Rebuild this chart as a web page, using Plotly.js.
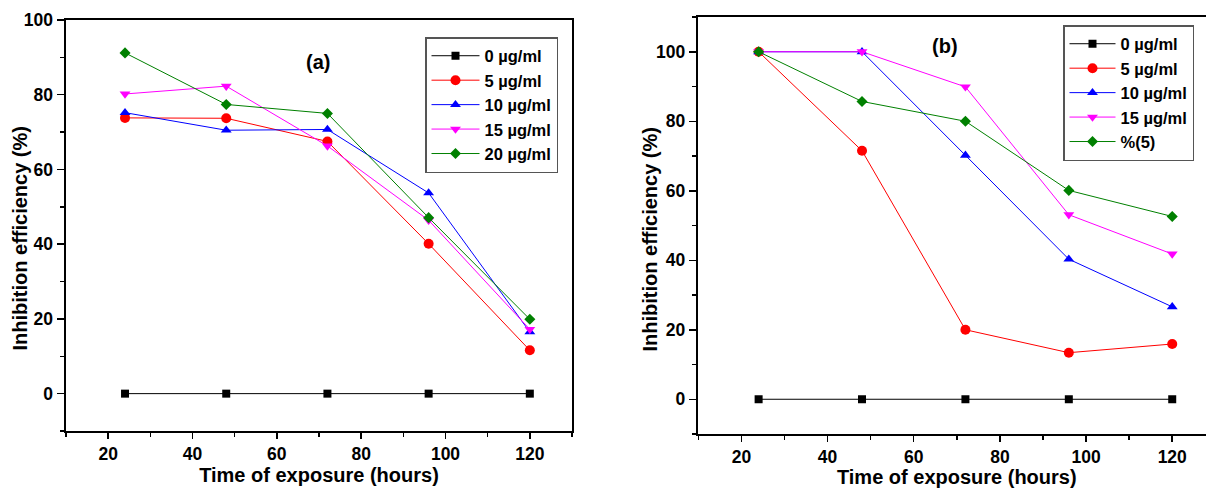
<!DOCTYPE html>
<html>
<head>
<meta charset="utf-8">
<script src="https://cdn.plot.ly/plotly-3.0.1.min.js"></script>
<style>html,body{margin:0;padding:0;background:#fff;overflow:hidden;width:1206px;height:488px;}#chart{width:1216px;height:488px;}</style>
</head>
<body>
<div id="chart"></div>
<script>
const hours = [24, 48, 72, 96, 120];

const namesA = ["0 µg/ml", "5 µg/ml", "10 µg/ml", "15 µg/ml", "20 µg/ml"];
const a0  = [0, 0, 0, 0, 0];
const a5  = [73.8, 73.7, 67.5, 40.1, 11.6];
const a10 = [75.2, 70.5, 70.7, 53.7, 16.5];
const a15 = [80.2, 82.3, 66.3, 46.4, 17.2];
const a20 = [91.2, 77.4, 75.0, 47.1, 19.9];

const namesB = ["0 µg/ml", "5 µg/ml", "10 µg/ml", "15 µg/ml", "%(5)"];
const b0  = [0, 0, 0, 0, 0];
const b5  = [100, 71.5, 20.0, 13.4, 15.9];
const b10 = [100, 100, 70.2, 40.3, 26.6];
const b15 = [100, 100, 89.9, 53.1, 41.8];
const b20 = [100, 85.7, 80.0, 60.1, 52.6];

const xTicks = [20, 40, 60, 80, 100, 120];
const yTicks = [0, 20, 40, 60, 80, 100];

const colors = ["#000000", "#ff0000", "#0000ff", "#ff00ff", "#008000"];
const symbols = ["square", "circle", "triangle-up", "triangle-down", "diamond"];
const sizes = [8, 10, 9.5, 9.5, 8.5];

const FONT = "Arial, 'Liberation Sans', sans-serif";

function mk(ys, i, name, xa, ya, leg) {
  return {
    x: hours, y: ys, name: name, type: "scatter", mode: "lines+markers",
    xaxis: xa, yaxis: ya, legend: leg,
    line: {color: colors[i], width: 1},
    marker: {color: colors[i], symbol: symbols[i], size: sizes[i]}
  };
}

const seriesA = [a0, a5, a10, a15, a20];
const seriesB = [b0, b5, b10, b15, b20];
const data = [];
seriesA.forEach((s, i) => data.push(mk(s, i, namesA[i], "x", "y", "legend")));
seriesB.forEach((s, i) => data.push(mk(s, i, namesB[i], "x2", "y2", "legend2")));

const W = 1216, H = 488;
function axisCommon(len) {
  return {
    showgrid: false, zeroline: false, showline: true, linecolor: "#000", linewidth: 2,
    mirror: true, ticks: "outside", ticklen: len, tickwidth: 1.5, tickcolor: "#000",
    tickfont: {family: FONT, size: 17.5, color: "#000", weight: 700},
    minor: {ticks: "outside", ticklen: 4, tickwidth: 1.5, tickcolor: "#000", dtick: 10},
    automargin: false
  };
}

const xTitle = {text: "<b>Time of exposure (hours)</b>", font: {family: FONT, size: 20, color: "#000"}, standoff: 2};
const yTitleFont = {family: FONT, size: 20, color: "#000"};
const legendFont = {family: FONT, size: 16.5, color: "#000", weight: 700};

const layout = {
  width: W, height: H,
  margin: {l: 0, r: 0, t: 0, b: 0},
  paper_bgcolor: "#fff", plot_bgcolor: "#fff",
  showlegend: true,
  xaxis: Object.assign(axisCommon(6), {
    domain: [66 / W, 572 / W], range: [10, 130], tickvals: xTicks,
    anchor: "y", title: xTitle
  }),
  yaxis: Object.assign(axisCommon(7.5), {
    domain: [1 - 431 / H, 1 - 20 / H], range: [-10, 100], tickvals: yTicks,
    anchor: "x"
  }),
  xaxis2: Object.assign(axisCommon(6), {
    domain: [698.3 / W, 1215.3 / W], range: [10, 130], tickvals: xTicks,
    anchor: "y2", title: xTitle
  }),
  yaxis2: Object.assign(axisCommon(7.5), {
    domain: [1 - 434 / H, 1 - 17 / H], range: [-10, 110], tickvals: yTicks,
    anchor: "x2"
  }),
  legend: {
    x: 425 / W, y: 1 - 37 / H, xanchor: "left", yanchor: "top",
    bgcolor: "#fff", bordercolor: "#555", borderwidth: 1.5,
    font: legendFont, itemwidth: 48, tracegroupgap: 0
  },
  legend2: {
    x: 1063 / W, y: 1 - 25 / H, xanchor: "left", yanchor: "top",
    bgcolor: "#fff", bordercolor: "#555", borderwidth: 1.5,
    font: legendFont, itemwidth: 46, tracegroupgap: 0
  },
  annotations: [
    {text: "<b>(a)</b>", x: 318 / W, y: 1 - 62 / H, xref: "paper", yref: "paper",
     xanchor: "center", yanchor: "middle", showarrow: false,
     font: {family: FONT, size: 20, color: "#000"}},
    {text: "<b>(b)</b>", x: 945 / W, y: 1 - 46 / H, xref: "paper", yref: "paper",
     xanchor: "center", yanchor: "middle", showarrow: false,
     font: {family: FONT, size: 20, color: "#000"}},
    {text: "<b>Inhibition efficiency (%)</b>", x: 19.5 / W, y: 1 - 239 / H, xref: "paper", yref: "paper",
     xanchor: "center", yanchor: "middle", textangle: -90, showarrow: false, font: yTitleFont},
    {text: "<b>Inhibition efficiency (%)</b>", x: 649.5 / W, y: 1 - 240 / H, xref: "paper", yref: "paper",
     xanchor: "center", yanchor: "middle", textangle: -90, showarrow: false, font: yTitleFont}
  ]
};

Plotly.newPlot("chart", data, layout, {staticPlot: true});
</script>
</body>
</html>
